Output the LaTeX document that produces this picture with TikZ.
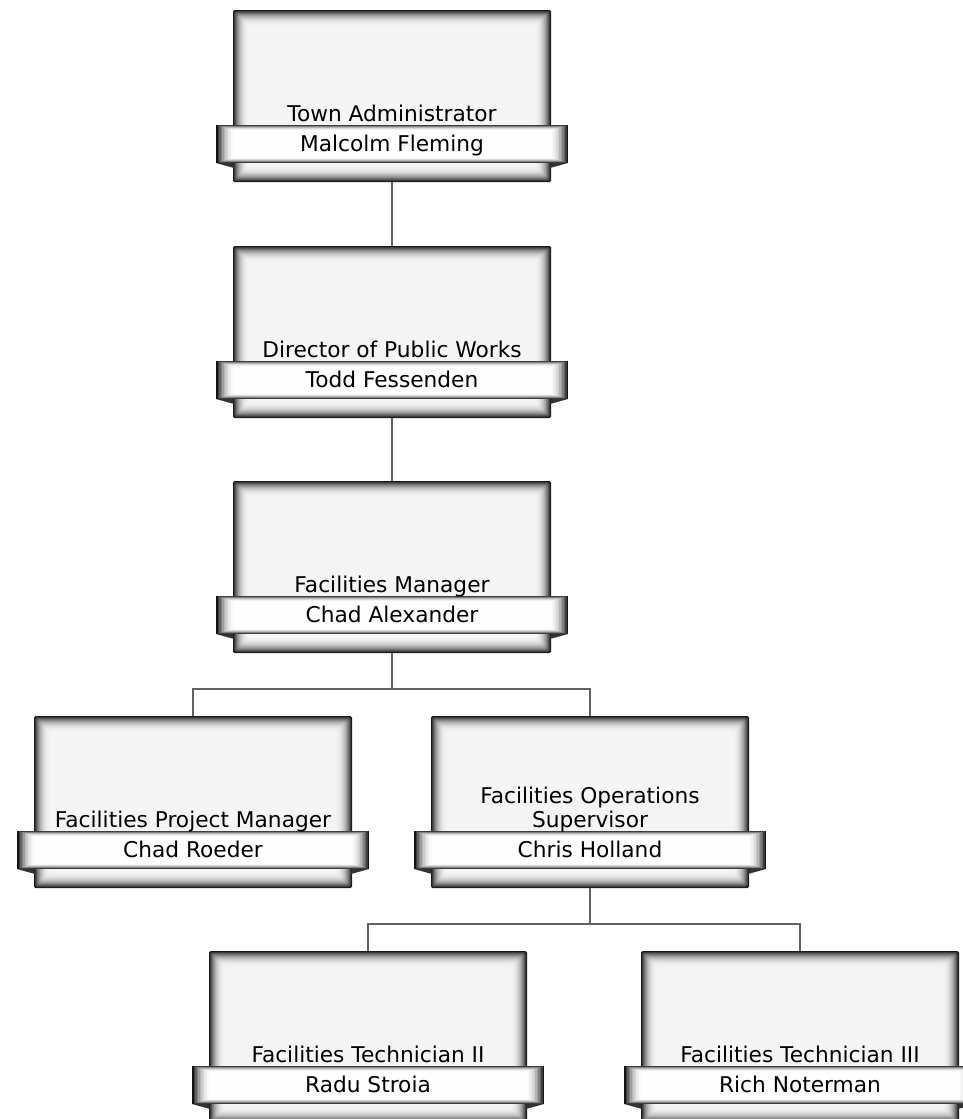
\documentclass[tikz,border=0pt]{standalone}
\usepackage{fontspec}
\setmainfont{DejaVu Sans}
\usetikzlibrary{calc}
\tikzset{
  cardbox/.style={draw=none, minimum width=318pt, minimum height=172pt, inner sep=0pt, outer sep=0pt},
  cardband/.style={draw=none, minimum width=352pt, minimum height=38pt, inner sep=0pt, outer sep=0pt},
  cardtext/.style={font=\fontsize{21.7}{24}\selectfont, inner sep=0pt, anchor=base, text=black},
  conn/.style={draw=black!62, line width=1.5pt},
  wedge/.style={fill=black!80},
}
\newcommand\drawcard[3]{%
  \node[cardbox] (#1) at (#2,#3+86) {};
  \foreach \i in {0,...,17}{%
    \pgfmathsetmacro\dk{4+86*(1-\i/18)^2.8}%
    \fill[black!\dk!white, rounded corners=1.5pt] ($(#1.north west)+(\i,\i)$) rectangle ($(#1.south east)+(-\i,-\i)$);
  }
  \node[cardband] (#1b) at (#2,#3+134) {};
  \fill[wedge] (#1b.south west) -- ++(17,0) -- ++(1,5) -- cycle;
  \fill[wedge] (#1b.south east) -- ++(-17,0) -- ++(-1,5) -- cycle;
  \foreach \j in {0,...,12}{%
    \pgfmathsetmacro\dk{92*(1-\j/13)^2.4}%
    \fill[black!\dk!white] ($(#1b.north west)+(1.5*\j,0.45*\j)$) rectangle ($(#1b.south east)+(-1.5*\j,-0.45*\j)$);
  }
}
\begin{document}
\begin{tikzpicture}[x=1pt,y=-1pt]
\useasboundingbox (0,0) rectangle (963,1119);
\fill[white] (0,0) rectangle (963,1119);
\drawcard{n1}{392}{10}
\drawcard{n2}{392}{246}
\drawcard{n3}{392}{481}
\drawcard{n4}{193}{716}
\drawcard{n5}{590}{716}
\drawcard{n6}{368}{951}
\drawcard{n7}{800}{951}
% texts
\node[cardtext] (t1) at (392,121) {Town Administrator};
\node[cardtext] (p1) at (392,151) {Malcolm Fleming};
\node[cardtext] (t2) at (392,357) {Director of Public Works};
\node[cardtext] (p2) at (392,387) {Todd Fessenden};
\node[cardtext] (t3) at (392,592) {Facilities Manager};
\node[cardtext] (p3) at (392,622) {Chad Alexander};
\node[cardtext] (t4) at (193,827) {Facilities Project Manager};
\node[cardtext] (p4) at (193,857) {Chad Roeder};
\node[cardtext] (t5a) at (590,803) {Facilities Operations};
\node[cardtext] (t5b) at (590,827) {Supervisor};
\node[cardtext] (p5) at (590,857) {Chris Holland};
\node[cardtext] (t6) at (368,1062) {Facilities Technician II};
\node[cardtext] (p6) at (368,1092) {Radu Stroia};
\node[cardtext] (t7) at (800,1062) {Facilities Technician III};
\node[cardtext] (p7) at (800,1092) {Rich Noterman};
% connectors
\draw[conn] (n1.south) -- (n2.north);
\draw[conn] (n2.south) -- (n3.north);
\draw[conn] (n3.south) -- ++(0,36) -| (n4.north);
\draw[conn] (n3.south) -- ++(0,36) -| (n5.north);
\draw[conn] (n5.south) -- ++(0,36) -| (n6.north);
\draw[conn] (n5.south) -- ++(0,36) -| (n7.north);
\end{tikzpicture}
\end{document}
